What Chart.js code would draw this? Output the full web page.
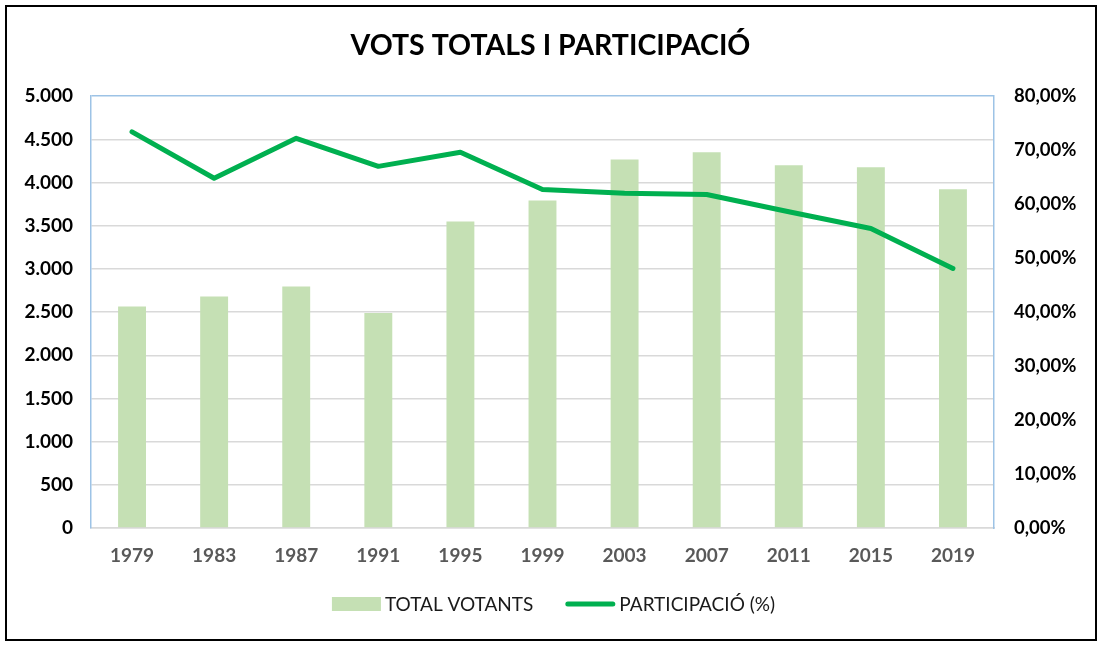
<!DOCTYPE html>
<html>
<head>
<meta charset="utf-8">
<script src="https://cdn.jsdelivr.net/npm/chart.js@4/dist/chart.umd.min.js"></script>
<style>
  html, body { margin: 0; padding: 0; background: #fff; }
  #wrap { position: relative; width: 1101px; height: 647px; }
  #frame { position: absolute; left: 5px; top: 5px; width: 1088px; height: 632px; border: 2.5px solid #000; pointer-events: none; }
  canvas { position: absolute; left: 0; top: 0; }
</style>
</head>
<body>
<div id="wrap">
  <canvas id="chart" width="1101" height="647"></canvas>
  <div id="frame"></div>
</div>
<script>
// dades
const years = ["1979", "1983", "1987", "1991", "1995", "1999", "2003", "2007", "2011", "2015", "2019"];
const totalVotants = [2565, 2680, 2795, 2490, 3548, 3793, 4268, 4350, 4200, 4177, 3922];
const participacio = [73.4, 64.8, 72.2, 67.0, 69.6, 62.7, 62.0, 61.8, 58.6, 55.5, 48.1];

const FONT = "Lato, 'Open Sans', sans-serif";
const BAR_COLOR = "#C5E0B4";
const LINE_COLOR = "#00B050";
const AXIS_BLUE = "#9DC3E6";
const GRID_GRAY = "#D9D9D9";

// 5000 -> "5.000"
function thousands(v) {
  return String(Math.round(v)).replace(/\B(?=(\d{3})+(?!\d))/g, ".");
}

// llegenda a mida (com la d'Excel), dibuixada sota l'eix X
const excelLegend = {
  id: "excelLegend",
  afterDraw(chart) {
    const c = chart.ctx;
    const barDs = chart.data.datasets[1];
    const lineDs = chart.data.datasets[0];
    const y = 604;

    c.save();
    c.font = "19px " + FONT;
    c.textBaseline = "middle";

    const w1 = c.measureText(barDs.label).width;
    const w2 = c.measureText(lineDs.label).width;
    const total = 49 + 4 + w1 + 32 + 50 + 4 + w2;
    let x = chart.width / 2 + 3 - total / 2;

    c.fillStyle = barDs.backgroundColor;
    c.fillRect(x, y - 7, 49, 14);
    x += 49 + 4;
    c.fillStyle = "#1a1a1a";
    c.fillText(barDs.label, x, y + 1);
    x += w1 + 32;

    c.strokeStyle = lineDs.borderColor;
    c.lineWidth = 5;
    c.lineCap = "round";
    c.beginPath();
    c.moveTo(x + 2.5, y);
    c.lineTo(x + 47.5, y);
    c.stroke();
    x += 50 + 4;
    c.fillText(lineDs.label, x, y + 1);
    c.restore();
  }
};

const ctx = document.getElementById("chart").getContext("2d");

new Chart(ctx, {
  type: "bar",
  data: {
    labels: years,
    datasets: [
      {
        type: "line",
        label: "PARTICIPACIÓ (%)",
        data: participacio,
        yAxisID: "y2",
        borderColor: LINE_COLOR,
        backgroundColor: LINE_COLOR,
        borderWidth: 5,
        pointRadius: 0,
        tension: 0,
        borderCapStyle: "round",
        borderJoinStyle: "round",
        order: 0
      },
      {
        type: "bar",
        label: "TOTAL VOTANTS",
        data: totalVotants,
        yAxisID: "y",
        backgroundColor: BAR_COLOR,
        categoryPercentage: 1,
        barPercentage: 0.34,
        order: 1
      }
    ]
  },
  plugins: [excelLegend],
  options: {
    responsive: false,
    animation: false,
    devicePixelRatio: 1,
    layout: { padding: { left: 0, right: 0, top: 0, bottom: 61 } },
    plugins: {
      title: {
        display: true,
        text: "VOTS TOTALS I PARTICIPACIÓ",
        color: "#000",
        font: { family: FONT, size: 28.5, weight: "bold" },
        padding: { top: 29, bottom: 33 }
      },
      legend: { display: false },
      tooltip: { enabled: false }
    },
    scales: {
      x: {
        offset: true,
        grid: { display: false },
        border: { display: true, color: GRID_GRAY, width: 1.5 },
        ticks: { color: "#595959", padding: 8, font: { family: FONT, size: 19, weight: "bold" } },
        afterFit: function (s) { s.height = 58; }
      },
      y: {
        position: "left",
        min: 0,
        max: 5000,
        ticks: {
          stepSize: 500,
          color: "#000",
          padding: 18,
          font: { family: FONT, size: 19, weight: "bold" },
          callback: function (v) { return thousands(v); }
        },
        grid: {
          drawTicks: false,
          lineWidth: 1.5,
          color: function (c) { return c.tick && c.tick.value === 5000 ? AXIS_BLUE : GRID_GRAY; }
        },
        border: { display: true, color: AXIS_BLUE, width: 1.5 },
        afterFit: function (s) { s.width = 91; }
      },
      y2: {
        position: "right",
        min: 0,
        max: 80,
        ticks: {
          stepSize: 10,
          color: "#000",
          padding: 20,
          font: { family: FONT, size: 18.5, weight: "bold" },
          callback: function (v) { return v.toFixed(2).replace(".", ",") + "%"; }
        },
        grid: { display: false, drawTicks: false },
        border: { display: true, color: AXIS_BLUE, width: 1.5 },
        afterFit: function (s) { s.width = 107; }
      }
    }
  }
});
</script>
</body>
</html>
